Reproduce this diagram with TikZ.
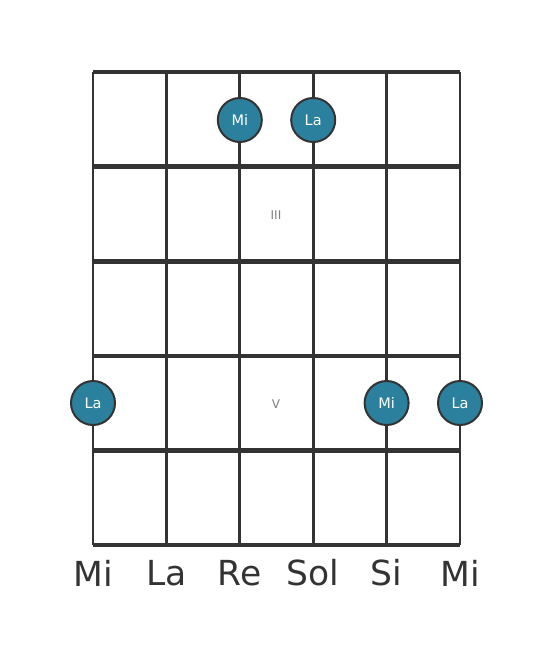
\documentclass[tikz,border=0pt]{standalone}
\usepackage{fontspec}
\setmainfont{DejaVu Sans}
\usepackage{xcolor}
\usetikzlibrary{positioning, calc}
\definecolor{dotteal}{RGB}{43,128,158}
\definecolor{griddark}{RGB}{51,51,51}
\tikzset{fret/.style={draw=griddark,line width=4.6pt},
         gstring/.style={draw=griddark,line width=2.8pt},
         notedot/.style={circle,draw=griddark,line width=2pt,fill=dotteal,minimum size=44pt,inner sep=0pt,text=white,font=\fontsize{14.5pt}{16pt}\selectfont},
         fretnum/.style={text=gray,font=\fontsize{12pt}{14pt}\selectfont},
         strname/.style={text=griddark,font=\fontsize{34.5pt}{38pt}\selectfont}}

\begin{document}
\begin{tikzpicture}[x=1pt,y=-1pt]
    \useasboundingbox[fill=white] (0,0) rectangle (553,656);
    % Strings
    \foreach \i/\sx in {1/93,2/166.4,3/239.8,4/313.2,5/386.6,6/460}
      \draw[gstring] (\sx,72) -- (\sx,545);
    % Frets
    \foreach \j/\fy in {0/72,1/166.6,2/261.2,3/355.8,4/450.4,5/545}
      \draw[fret] (93,\fy) -- (460,\fy);
    % Fret numbers
    \node (fIII) at (276,215) [fretnum]{III};
    \node (fV) at (276,404) [fretnum]{V};
    % Notes
    \node (n1) at (239.8,120) [notedot]{Mi};
    \node (n2) at (313.2,120) [notedot]{La};
    \node (n3) at (93,403) [notedot]{La};
    \node (n4) at (386.6,403) [notedot]{Mi};
    \node (n5) at (460,403) [notedot]{La};
    % String names
    \node (s1) at (93,573) [strname]{Mi};
    \node (s2) at (166.4,573) [strname]{La};
    \node (s3) at (239.8,573) [strname]{Re};
    \node (s4) at (313.2,573) [strname]{Sol};
    \node (s5) at (386.6,573) [strname]{Si};
    \node (s6) at (460,573) [strname]{Mi};
\end{tikzpicture}
\end{document}
